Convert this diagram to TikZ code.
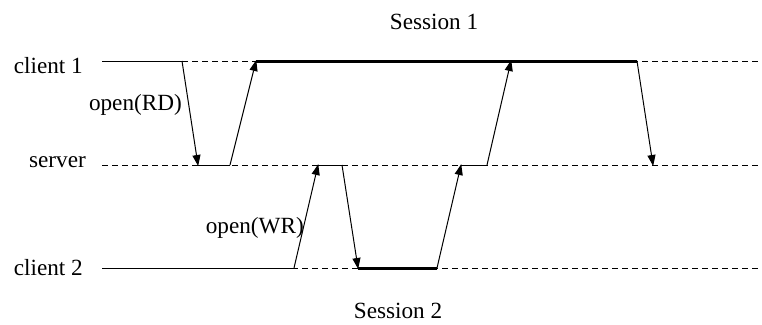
\documentclass[tikz,border=0pt]{standalone}
\usepackage{fontspec}
\setmainfont{Liberation Serif}
\usetikzlibrary{arrows.meta}
\begin{document}
\begin{tikzpicture}[x=1pt,y=-1pt,
  lbl/.style={inner sep=0pt,font=\fontsize{23.2}{27}\selectfont},
  guide/.style={line width=0.9pt,dash pattern=on 6pt off 4pt},
  thin/.style={line width=1pt},
  thick2/.style={line width=3pt},
  msg/.style={line width=1pt,-{Triangle[length=11pt,width=8pt]},shorten >=-1pt}]
\useasboundingbox (0,0) rectangle (762,324);
% named coordinates
\coordinate (c1s) at (102,61);  \coordinate (c1e) at (762,61);
\coordinate (svs) at (102,165); \coordinate (sve) at (762,165);
\coordinate (c2s) at (102,268); \coordinate (c2e) at (762,268);
\coordinate (a1) at (182,61);  \coordinate (a2) at (198,165);
\coordinate (a3) at (230,165); \coordinate (a4) at (256,61);
\coordinate (b1) at (294,268); \coordinate (b2) at (318,165);
\coordinate (b3) at (342,165); \coordinate (b4) at (358,268);
\coordinate (b5) at (437,268); \coordinate (b6) at (461,165);
\coordinate (b7) at (487,165); \coordinate (b8) at (511,61);
\coordinate (d1) at (637,61);  \coordinate (d2) at (653,165);
% guide lines
\draw[guide] (c1s) -- (c1e);
\draw[guide] (svs) -- (sve);
\draw[guide] (c2s) -- (c2e);
% solid segments
\draw[thin] (c1s) -- (a1);
\draw[thin] (a2) -- (a3);
\draw[thick2] (a4) -- (d1);
\draw[thin] (c2s) -- (b1);
\draw[thin] (b2) -- (b3);
\draw[thick2] (b4) -- (b5);
\draw[thin] (b6) -- (b7);
% messages
\draw[msg] (a1) -- (a2);
\draw[msg] (a3) -- (a4);
\draw[msg] (b1) -- (b2);
\draw[msg] (b3) -- (b4);
\draw[msg] (b5) -- (b6);
\draw[msg] (b7) -- (b8);
\draw[msg] (d1) -- (d2);
% labels
\node[lbl,anchor=base east] (lc1) at (83,73) {client 1};
\node[lbl,anchor=base east] (lsv) at (86,167) {server};
\node[lbl,anchor=base east] (lc2) at (83,275) {client 2};
\node[lbl,anchor=base east] (lrd) at (182,110) {open(RD)};
\node[lbl,anchor=base east] (lwr) at (304,233) {open(WR)};
\node[lbl,anchor=base] (ls1) at (434,29) {Session 1};
\node[lbl,anchor=base] (ls2) at (398,318) {Session 2};
\end{tikzpicture}
\end{document}
